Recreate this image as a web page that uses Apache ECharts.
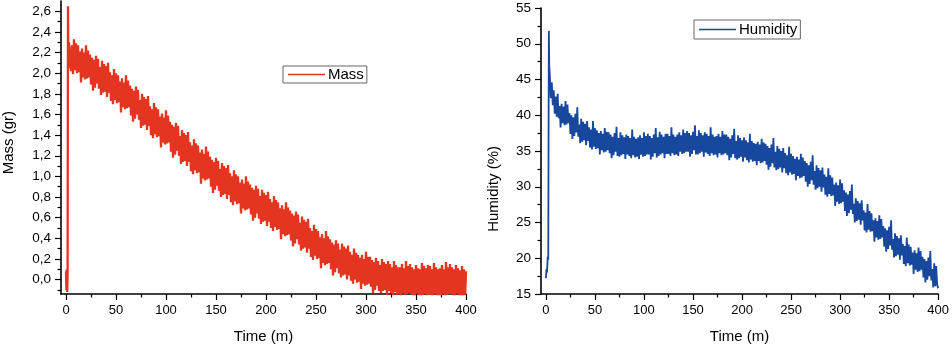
<!DOCTYPE html>
<html>
<head>
<meta charset="utf-8">
<script src="https://cdn.jsdelivr.net/npm/echarts@6/dist/echarts.min.js"></script>
<style>html,body{margin:0;padding:0;background:#fff}#c{width:952px;height:349px}</style>
</head>
<body>
<div id="c"></div>
<script>
// ---- tick values ----
const timeTicks = [0, 50, 100, 150, 200, 250, 300, 350, 400];
const timeMinorTicks = [25, 75, 125, 175, 225, 275, 325, 375];
const massTicks = [0, 0.2, 0.4, 0.6, 0.8, 1.0, 1.2, 1.4, 1.6, 1.8, 2.0, 2.2, 2.4, 2.6];
const massMinorTicks = [-0.1, 0.1, 0.3, 0.5, 0.7, 0.9, 1.1, 1.3, 1.5, 1.7, 1.9, 2.1, 2.3, 2.5];
const humTicks = [15, 20, 25, 30, 35, 40, 45, 50, 55];
const humMinorTicks = [17.5, 22.5, 27.5, 32.5, 37.5, 42.5, 47.5, 52.5];

// ---- Mass (gr) ----
const massStartTime = [0, 0.4, 0.8, 1.2, 1.6, 2.0, 2.4, 3.0];
const massStartValue = [0.08, -0.10, 0.10, -0.12, 0.05, 2.65, 2.05, 2.30];
const massReadStart = 4, massReadStep = 1; // one reading per minute from t = 4
const massReadings = [
  2.30, 2.02, 2.27, 1.99, 2.33, 2.03, 2.29, 2.00, 2.27, 2.01,
  2.21, 1.91, 2.24, 1.96, 2.20, 1.94, 2.27, 1.95, 2.22, 1.96,
  2.18, 1.89, 2.15, 1.83, 2.13, 1.86, 2.17, 1.90, 2.14, 1.85,
  2.06, 1.79, 2.12, 1.81, 2.09, 1.82, 2.07, 1.77, 2.10, 1.81,
  2.01, 1.73, 1.98, 1.70, 2.04, 1.74, 2.00, 1.71, 1.98, 1.72,
  1.92, 1.62, 1.95, 1.67, 1.91, 1.65, 1.98, 1.66, 1.93, 1.67,
  1.88, 1.59, 1.85, 1.53, 1.83, 1.56, 1.87, 1.60, 1.84, 1.55,
  1.74, 1.47, 1.80, 1.49, 1.77, 1.50, 1.75, 1.45, 1.78, 1.49,
  1.68, 1.40, 1.65, 1.37, 1.71, 1.41, 1.67, 1.38, 1.65, 1.39,
  1.58, 1.28, 1.61, 1.33, 1.57, 1.31, 1.64, 1.32, 1.59, 1.33,
  1.53, 1.24, 1.50, 1.18, 1.48, 1.21, 1.52, 1.25, 1.49, 1.20,
  1.39, 1.12, 1.45, 1.14, 1.42, 1.15, 1.40, 1.10, 1.43, 1.14,
  1.33, 1.05, 1.30, 1.02, 1.36, 1.06, 1.32, 1.03, 1.30, 1.04,
  1.23, 0.93, 1.26, 0.98, 1.22, 0.96, 1.29, 0.97, 1.24, 0.98,
  1.19, 0.90, 1.16, 0.84, 1.14, 0.87, 1.18, 0.91, 1.15, 0.86,
  1.07, 0.80, 1.13, 0.82, 1.10, 0.83, 1.08, 0.78, 1.11, 0.82,
  1.03, 0.75, 1.00, 0.72, 1.06, 0.76, 1.02, 0.73, 1.00, 0.74,
  0.94, 0.64, 0.97, 0.69, 0.93, 0.67, 1.00, 0.68, 0.95, 0.69,
  0.92, 0.63, 0.89, 0.57, 0.87, 0.60, 0.91, 0.64, 0.88, 0.59,
  0.81, 0.54, 0.87, 0.56, 0.84, 0.57, 0.82, 0.52, 0.85, 0.56,
  0.78, 0.50, 0.75, 0.47, 0.81, 0.51, 0.77, 0.48, 0.75, 0.49,
  0.69, 0.39, 0.72, 0.44, 0.68, 0.42, 0.75, 0.43, 0.70, 0.44,
  0.67, 0.38, 0.64, 0.32, 0.62, 0.35, 0.66, 0.39, 0.63, 0.34,
  0.55, 0.28, 0.61, 0.30, 0.58, 0.31, 0.56, 0.26, 0.59, 0.30,
  0.50, 0.22, 0.47, 0.19, 0.53, 0.23, 0.49, 0.20, 0.47, 0.21,
  0.41, 0.11, 0.44, 0.16, 0.40, 0.14, 0.47, 0.15, 0.42, 0.16,
  0.39, 0.10, 0.36, 0.04, 0.34, 0.07, 0.38, 0.11, 0.35, 0.06,
  0.29, 0.02, 0.35, 0.04, 0.32, 0.05, 0.30, 0.00, 0.33, 0.04,
  0.27, -0.01, 0.24, -0.04, 0.30, 0.00, 0.26, -0.03, 0.24, -0.02,
  0.21, -0.09, 0.24, -0.04, 0.20, -0.06, 0.27, -0.05, 0.22, -0.04,
  0.22, -0.07, 0.19, -0.13, 0.17, -0.10, 0.21, -0.06, 0.18, -0.11,
  0.14, -0.13, 0.20, -0.11, 0.17, -0.10, 0.15, -0.15, 0.18, -0.11,
  0.15, -0.13, 0.12, -0.16, 0.18, -0.12, 0.14, -0.15, 0.12, -0.14,
  0.12, -0.18, 0.15, -0.13, 0.11, -0.15, 0.18, -0.14, 0.13, -0.13,
  0.15, -0.14, 0.12, -0.20, 0.10, -0.17, 0.14, -0.13, 0.11, -0.18,
  0.10, -0.17, 0.16, -0.15, 0.13, -0.14, 0.11, -0.19, 0.14, -0.15,
  0.13, -0.15, 0.10, -0.18, 0.16, -0.14, 0.12, -0.17, 0.10, -0.16,
  0.11, -0.19, 0.14, -0.14, 0.10, -0.16, 0.17, -0.15, 0.12, -0.14,
  0.15, -0.14, 0.12, -0.20, 0.10, -0.17, 0.14, -0.13, 0.11, -0.18,
  0.09, -0.18, 0.13, -0.16, 0.10, -0.19, 0.08
];

// ---- Humidity (%) ----
const humStartTime = [0, 0.6, 1.2, 1.8, 2.4, 3.0, 3.4];
const humStartValue = [17.2, 18.5, 18.0, 20.2, 19.8, 51.8, 47.0];
const humReadStart = 4, humReadStep = 1;
const humReadings = [
  45.6, 42.4, 44.6, 41.4, 43.5, 40.2, 42.6, 39.8, 43.0, 39.6,
  41.3, 38.3, 41.6, 38.9, 41.2, 38.6, 42.0, 38.7, 41.5, 38.9,
  40.3, 37.4, 40.0, 36.7, 39.7, 37.1, 40.2, 37.6, 41.1, 37.0,
  38.7, 36.1, 39.5, 36.3, 39.1, 36.5, 38.8, 35.8, 39.2, 36.4,
  38.3, 35.5, 38.0, 35.2, 39.2, 35.6, 38.2, 35.3, 37.9, 35.4,
  37.5, 34.5, 37.8, 35.1, 37.4, 34.8, 38.2, 34.9, 37.7, 35.1,
  37.6, 34.7, 37.3, 34.0, 37.0, 34.4, 37.5, 34.9, 38.4, 34.3,
  36.8, 34.2, 37.6, 34.4, 37.2, 34.6, 36.9, 33.9, 37.3, 34.5,
  37.1, 34.3, 36.8, 34.0, 38.0, 34.4, 37.0, 34.1, 36.7, 34.2,
  36.9, 33.9, 37.2, 34.5, 36.8, 34.2, 37.6, 34.3, 37.1, 34.5,
  37.4, 34.5, 37.1, 33.8, 36.8, 34.2, 37.3, 34.7, 38.2, 34.1,
  36.9, 34.3, 37.7, 34.5, 37.3, 34.7, 37.0, 34.0, 37.4, 34.6,
  37.4, 34.6, 37.1, 34.3, 38.3, 34.7, 37.3, 34.4, 37.0, 34.5,
  37.3, 34.3, 37.6, 34.9, 37.2, 34.6, 38.0, 34.7, 37.5, 34.9,
  37.8, 34.9, 37.5, 34.2, 37.2, 34.6, 37.7, 35.1, 38.6, 34.5,
  37.1, 34.5, 37.9, 34.7, 37.5, 34.9, 37.2, 34.2, 37.6, 34.8,
  37.4, 34.6, 37.1, 34.3, 38.3, 34.7, 37.3, 34.4, 37.0, 34.5,
  37.1, 34.1, 37.4, 34.7, 37.0, 34.4, 37.8, 34.5, 37.3, 34.7,
  37.3, 34.4, 37.0, 33.7, 36.7, 34.1, 37.2, 34.6, 38.1, 34.0,
  36.4, 33.8, 37.2, 34.0, 36.8, 34.2, 36.5, 33.5, 36.9, 34.1,
  36.5, 33.7, 36.2, 33.4, 37.4, 33.8, 36.4, 33.5, 36.1, 33.6,
  36.0, 33.0, 36.3, 33.6, 35.9, 33.3, 36.7, 33.4, 36.2, 33.6,
  36.0, 33.1, 35.7, 32.4, 35.4, 32.8, 35.9, 33.3, 36.8, 32.7,
  34.9, 32.3, 35.7, 32.5, 35.3, 32.7, 35.0, 32.0, 35.4, 32.6,
  34.7, 31.9, 34.4, 31.6, 35.6, 32.0, 34.6, 31.7, 34.3, 31.8,
  33.9, 30.9, 34.2, 31.5, 33.8, 31.2, 34.6, 31.3, 34.1, 31.5,
  33.6, 30.7, 33.3, 30.0, 33.0, 30.4, 33.5, 30.9, 34.4, 30.3,
  32.2, 29.6, 33.0, 29.8, 32.6, 30.0, 32.3, 29.3, 32.7, 29.9,
  31.7, 28.9, 31.4, 28.6, 32.6, 29.0, 31.6, 28.7, 31.3, 28.8,
  30.3, 27.3, 30.6, 27.9, 30.2, 27.6, 31.0, 27.7, 30.5, 27.9,
  29.5, 26.6, 29.2, 25.9, 28.9, 26.3, 29.4, 26.8, 30.3, 26.2,
  27.6, 25.0, 28.4, 25.2, 28.0, 25.4, 27.7, 24.7, 28.1, 25.3,
  26.7, 23.9, 26.4, 23.6, 27.6, 24.0, 26.6, 23.7, 26.3, 23.8,
  25.3, 22.3, 25.6, 22.9, 25.2, 22.6, 26.0, 22.7, 25.5, 22.9,
  24.5, 21.6, 24.2, 20.9, 23.9, 21.3, 24.4, 21.8, 25.3, 21.2,
  22.7, 20.1, 23.5, 20.3, 23.1, 20.5, 22.8, 19.8, 23.2, 20.4,
  22.0, 19.2, 21.7, 18.9, 22.9, 19.3, 21.9, 19.0, 21.6, 19.1,
  20.8, 17.8, 21.1, 18.4, 20.7, 18.1, 21.5, 18.2, 21.0, 18.4,
  20.2, 17.3, 19.9, 16.6, 19.6, 17.0, 20.1, 17.5, 21.0, 16.9,
  18.5, 15.9, 19.3, 16.1, 18.9, 16.3, 15.8
];

// ---- build [t, v] pairs for the library ----
function build(startT, startV, readStart, readStep, readings) {
  const out = [];
  startT.forEach((t, i) => out.push([t, startV[i]]));
  readings.forEach((v, i) => out.push([readStart + i * readStep, v]));
  return out;
}
const massData = build(massStartTime, massStartValue, massReadStart, massReadStep, massReadings);
const humData = build(humStartTime, humStartValue, humReadStart, humReadStep, humReadings);

const FONT = 'Liberation Sans, Arial, sans-serif';
const comma = v => v.toFixed(1).replace('.', ',');
const hiddenLine = { show: true, lineStyle: { color: '#000', width: 1, opacity: 0 } };

function xAxes(gi) {
  return [
    { type: 'value', gridIndex: gi, min: -5, max: 400, position: 'bottom',
      axisLine: { show: true, onZero: false, lineStyle: { color: '#000', width: 1.6 } },
      axisTick: { show: true, inside: false, length: 6, customValues: timeTicks, lineStyle: { color: '#000', width: 1.2 } },
      axisLabel: { customValues: timeTicks, color: '#000', fontSize: 13, fontFamily: FONT, margin: 10 },
      splitLine: { show: false },
      name: 'Time (m)', nameLocation: 'middle', nameGap: 35,
      nameTextStyle: { color: '#000', fontSize: 15, fontFamily: FONT } },
    { type: 'value', gridIndex: gi, min: -5, max: 400, position: 'bottom',
      axisLine: Object.assign({ onZero: false }, hiddenLine),
      axisTick: { show: true, length: 3.5, customValues: timeMinorTicks, lineStyle: { color: '#000', width: 1.2 } },
      axisLabel: { show: false }, splitLine: { show: false } }
  ];
}
function yAxes(gi, min, max, ticks, minor, fmt) {
  return [
    { type: 'value', gridIndex: gi, min: min, max: max, position: 'left',
      axisLine: { show: true, onZero: false, lineStyle: { color: '#000', width: 1.6 } },
      axisTick: { show: true, length: 6, customValues: ticks, lineStyle: { color: '#000', width: 1.2 } },
      axisLabel: { customValues: ticks, color: '#000', fontSize: 13.5, fontFamily: FONT, margin: 10, formatter: fmt },
      splitLine: { show: false } },
    { type: 'value', gridIndex: gi, min: min, max: max, position: 'left',
      axisLine: Object.assign({ onZero: false }, hiddenLine),
      axisTick: { show: true, length: 3.5, customValues: minor, lineStyle: { color: '#000', width: 1.2 } },
      axisLabel: { show: false }, splitLine: { show: false } }
  ];
}

const chart = echarts.init(document.getElementById('c'), null, { renderer: 'canvas' });
chart.setOption({
  animation: false,
  backgroundColor: '#fff',
  grid: [
    { left: 61, top: 1, width: 405, height: 298 },
    { left: 541, top: 8, width: 398, height: 293 }
  ],
  xAxis: [...xAxes(0), ...xAxes(1)],
  yAxis: [
    ...yAxes(0, -0.14, 2.7, massTicks, massMinorTicks, v => comma(v)),
    ...yAxes(1, 15, 55, humTicks, humMinorTicks, v => String(v))
  ],
  legend: [
    { data: [{ name: 'Mass', icon: 'rect' }], left: 283, top: 66, itemWidth: 37, itemHeight: 1.6,
      borderColor: '#666', borderWidth: 1, padding: [1, 3, 1, 5],
      textStyle: { color: '#000', fontSize: 15, fontFamily: FONT, padding: [0, 0, 0, -2] } },
    { data: [{ name: 'Humidity', icon: 'rect' }], left: 694, top: 20, itemWidth: 37, itemHeight: 1.6,
      borderColor: '#666', borderWidth: 1, padding: [2, 3, 2, 5],
      textStyle: { color: '#000', fontSize: 15, fontFamily: FONT, padding: [0, 0, 0, -2] } }
  ],
  graphic: [
    { type: 'text', left: 1, top: 111, rotation: Math.PI / 2,
      style: { text: 'Mass (gr)', fill: '#000', font: '15px ' + FONT } },
    { type: 'text', left: 486, top: 146, rotation: Math.PI / 2,
      style: { text: 'Humidity (%)', fill: '#000', font: '15px ' + FONT } }
  ],
  series: [
    { name: 'Mass', type: 'line', xAxisIndex: 0, yAxisIndex: 0, data: massData,
      symbol: 'none', sampling: null, clip: true,
      lineStyle: { color: '#e3351f', width: 2.3 }, itemStyle: { color: '#e3351f' } },
    { name: 'Humidity', type: 'line', xAxisIndex: 2, yAxisIndex: 2, data: humData,
      symbol: 'none', clip: true,
      lineStyle: { color: '#17489d', width: 1.8 }, itemStyle: { color: '#17489d' } }
  ]
});
</script>
</body>
</html>
